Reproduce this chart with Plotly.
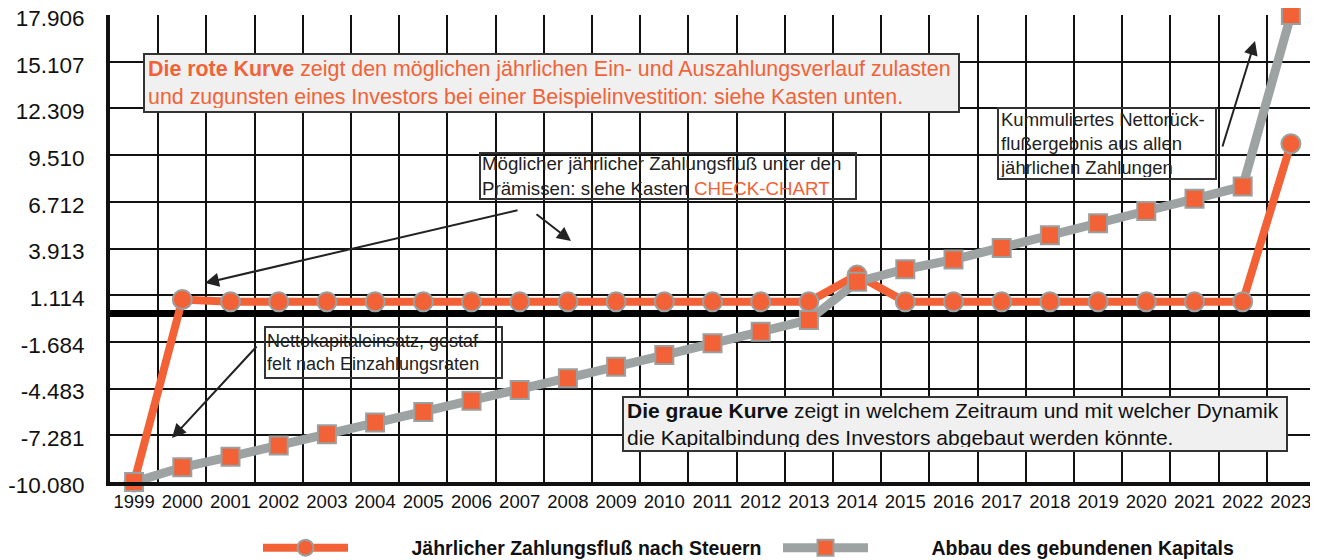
import plotly.graph_objects as go

# ---------------- data ----------------
years = list(range(1999, 2024))
year_labels = [str(y) for y in years]

zahlungsfluss = [-10.080, 0.85, 0.72, 0.72, 0.72, 0.72, 0.72, 0.72, 0.72, 0.72,
                 0.72, 0.72, 0.72, 0.72, 0.72, 2.32, 0.72, 0.72, 0.72, 0.72,
                 0.72, 0.72, 0.72, 0.72, 10.19]

abbau_kapital = [-10.080, -9.20, -8.56, -7.90, -7.22, -6.52, -5.88, -5.21, -4.57, -3.87,
                 -3.17, -2.47, -1.77, -1.07, -0.37, 1.92, 2.67, 3.25, 3.95, 4.71,
                 5.42, 6.16, 6.89, 7.63, 17.906]

y_tick_values = [17.906, 15.107, 12.309, 9.510, 6.712, 3.913, 1.114, -1.684, -4.483, -7.281, -10.080]
y_tick_labels = ["17.906", "15.107", "12.309", "9.510", "6.712", "3.913", "1.114",
                 "-1.684", "-4.483", "-7.281", "-10.080"]

name_red = "Jährlicher Zahlungsfluß nach Steuern"
name_gray = "Abbau des gebundenen Kapitals"

# ---------------- style ----------------
RED = "#F26236"
GRAY = "#9DA3A3"
EDGE = "#9AA0A0"
FONT = "Liberation Sans, Arial, Helvetica, sans-serif"

OFF = 8  # default page body margin
W_FIG, H_FIG = 1318 - OFF, 560 - OFF
M_L, M_T = 110 - OFF, 15 - OFF
PW, PH = 1205, 467
M_R = W_FIG - M_L - PW
M_B = H_FIG - M_T - PH


def px_x(p):
    return (p - OFF - M_L) / PW


def px_y(p):
    return (M_T + PH - (p - OFF)) / PH


fig = go.Figure()

fig.add_trace(go.Scatter(
    x=years, y=zahlungsfluss, name="\u2003\u2003\u2003" + name_red,
    mode="lines+markers",
    line=dict(color=RED, width=8),
    marker=dict(symbol="circle", size=19, color=RED, line=dict(color=EDGE, width=2)),
    cliponaxis=False,
))

fig.add_trace(go.Scatter(
    x=years, y=abbau_kapital, name="\u2003\u2003\u2003" + name_gray,
    mode="lines+markers",
    line=dict(color=GRAY, width=9),
    marker=dict(symbol="square", size=18, color=RED, line=dict(color=EDGE, width=2)),
    cliponaxis=False,
))

# ---------------- annotations (text boxes) ----------------
def box(text, x0, y0, x1, y1, size, color, bg, bw=2, bp=1):
    return dict(
        text=text, xref="paper", yref="paper",
        x=px_x(x0), y=px_y(y0), xanchor="left", yanchor="top",
        showarrow=False, align="left", valign="middle",
        width=(x1 - x0) - 2 * (bw + bp), height=(y1 - y0) - 2 * (bw + bp),
        bgcolor=bg, bordercolor="#333333", borderwidth=bw, borderpad=bp,
        font=dict(family=FONT, size=size, color=color),
    )


annotations = [
    box("<b>Die rote Kurve</b> zeigt den möglichen jährlichen Ein- und Auszahlungsverlauf zulasten"
        "<br>und zugunsten eines Investors bei einer Beispielinvestition: siehe Kasten unten.",
        143, 53, 960, 113, 21.4, RED, "#F0F0F0", bp=3),
    box("Möglicher jährlicher Zahlungsfluß unter den<br>Prämissen: siehe Kasten "
        "<span style='color:" + RED + "'>CHECK-CHART</span>",
        479, 152, 857, 200, 18.7, "#222222", "rgba(0,0,0,0)"),
    box("Nettokapitaleinsatz, gestaf-<br>felt nach Einzahlungsraten",
        264, 326, 503, 379, 18, "#222222", "rgba(0,0,0,0)"),
    box("Kummuliertes Nettorück-<br>flußergebnis aus allen<br>jährlichen Zahlungen",
        997, 107, 1217, 180, 18.5, "#222222", "rgba(0,0,0,0)"),
    box("<b>Die graue Kurve</b> zeigt in welchem Zeitraum und mit welcher Dynamik"
        "<br>die Kapitalbindung des Investors abgebaut werden könnte.",
        622, 396, 1288, 452, 21, "#111111", "#F0F0F0", bp=3),
]


def arrow(tail, head):
    return dict(
        text="", xref="paper", yref="paper",
        x=px_x(head[0]), y=px_y(head[1]),
        ax=tail[0] - head[0], ay=tail[1] - head[1],
        showarrow=True, arrowhead=2, arrowsize=1.4, arrowwidth=2,
        arrowcolor="#222222", standoff=0, startstandoff=0,
    )


annotations += [
    arrow((519, 210), (205, 283)),
    arrow((535, 213), (571, 241)),
    arrow((258, 345), (172, 438)),
    arrow((1222, 148), (1255, 41)),
]

fig.update_layout(
    width=W_FIG, height=H_FIG,
    margin=dict(l=M_L, r=M_R, t=M_T, b=M_B, autoexpand=False),
    paper_bgcolor="white", plot_bgcolor="white",
    font=dict(family=FONT, color="#111111"),
    annotations=annotations,
    showlegend=True,
    legend=dict(
        orientation="h", xref="container", yref="container",
        x=(258 - OFF) / W_FIG, y=1 - (548 - OFF) / H_FIG, xanchor="left", yanchor="middle",
        itemwidth=85, entrywidth=420, entrywidthmode="pixels",
        font=dict(family=FONT, size=19.5, color="#111111", weight="bold"),
        bgcolor="rgba(0,0,0,0)", itemclick=False,
    ),
    xaxis=dict(
        range=[1998.5, 2023.5], tickmode="array", tickvals=years, ticktext=year_labels,
        showgrid=False, zeroline=False, automargin=False,
        showline=True, linecolor="#111111", linewidth=4,
        ticks="", tickfont=dict(family=FONT, size=18.5, color="#111111"),
        minor=dict(tick0=1998.5, dtick=1, showgrid=True, gridcolor="#111111", gridwidth=2, ticks=""),
    ),
    yaxis=dict(
        range=[y_tick_values[-1], y_tick_values[0]], tickmode="array",
        tickvals=y_tick_values, ticktext=y_tick_labels, automargin=False,
        ticklabeloverflow="allow", ticklabelshift=3,
        showgrid=True, gridcolor="#111111", gridwidth=2,
        zeroline=True, zerolinecolor="#000000", zerolinewidth=7,
        showline=True, linecolor="#111111", linewidth=4,
        ticks="", ticklabelstandoff=17,
        tickfont=dict(family=FONT, size=22.5, color="#111111"),
    ),
)

fig.write_html("out.html")
